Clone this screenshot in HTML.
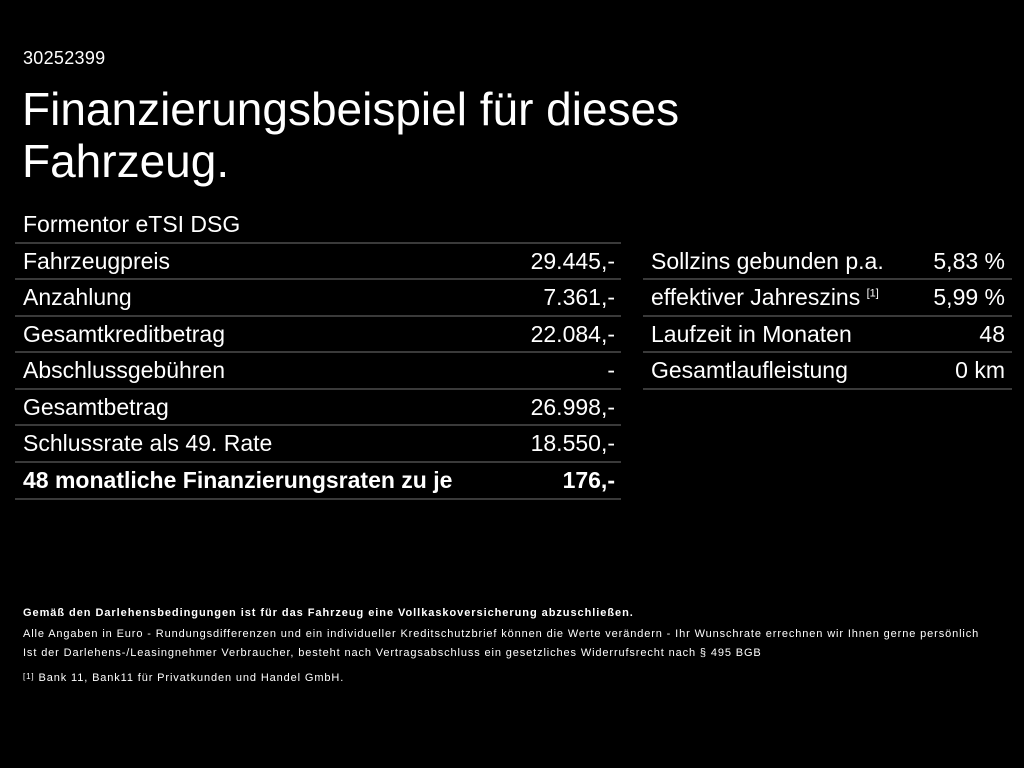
<!DOCTYPE html>
<html><head><meta charset="utf-8"><style>
body{margin:0;width:1024px;height:768px;background:#000;color:#fff;font-family:"Liberation Sans",sans-serif;position:relative;overflow:hidden}
.a{position:absolute;white-space:nowrap}
.l{position:absolute;height:2px;background:#3a3a3a}
.r{font-size:23px}
.f{font-size:11px;letter-spacing:0.88px}
</style></head><body>
<div class="a" style="left:23px;top:48px;font-size:18px;letter-spacing:0.3px">30252399</div>
<div class="a" style="left:22px;top:83px;font-size:46px;line-height:52px">Finanzierungsbeispiel für dieses<br>Fahrzeug.</div>
<div class="a r" style="left:23px;top:211px">Formentor eTSI DSG</div>

<div class="l" style="left:15px;width:606px;top:242px"></div>
<div class="l" style="left:15px;width:606px;top:278px"></div>
<div class="l" style="left:15px;width:606px;top:315px"></div>
<div class="l" style="left:15px;width:606px;top:351px"></div>
<div class="l" style="left:15px;width:606px;top:388px"></div>
<div class="l" style="left:15px;width:606px;top:424px"></div>
<div class="l" style="left:15px;width:606px;top:461px"></div>
<div class="l" style="left:15px;width:606px;top:498px"></div>

<div class="a r" style="left:23px;top:248px">Fahrzeugpreis</div>
<div class="a r" style="right:409px;top:248px">29.445,-</div>
<div class="a r" style="left:23px;top:284px">Anzahlung</div>
<div class="a r" style="right:409px;top:284px">7.361,-</div>
<div class="a r" style="left:23px;top:321px">Gesamtkreditbetrag</div>
<div class="a r" style="right:409px;top:321px">22.084,-</div>
<div class="a r" style="left:23px;top:357px">Abschlussgebühren</div>
<div class="a r" style="right:409px;top:357px">-</div>
<div class="a r" style="left:23px;top:394px">Gesamtbetrag</div>
<div class="a r" style="right:409px;top:394px">26.998,-</div>
<div class="a r" style="left:23px;top:430px">Schlussrate als 49. Rate</div>
<div class="a r" style="right:409px;top:430px">18.550,-</div>
<div class="a r" style="left:23px;top:467px;font-weight:bold">48 monatliche Finanzierungsraten zu je</div>
<div class="a r" style="right:409px;top:467px;font-weight:bold">176,-</div>

<div class="l" style="left:643px;width:369px;top:278px"></div>
<div class="l" style="left:643px;width:369px;top:315px"></div>
<div class="l" style="left:643px;width:369px;top:351px"></div>
<div class="l" style="left:643px;width:369px;top:388px"></div>
<div class="a r" style="left:651px;top:248px">Sollzins gebunden p.a.</div>
<div class="a r" style="right:19px;top:248px">5,83 %</div>
<div class="a r" style="left:651px;top:284px">effektiver Jahreszins <sup style="font-size:11px">[1]</sup></div>
<div class="a r" style="right:19px;top:284px">5,99 %</div>
<div class="a r" style="left:651px;top:321px">Laufzeit in Monaten</div>
<div class="a r" style="right:19px;top:321px">48</div>
<div class="a r" style="left:651px;top:357px">Gesamtlaufleistung</div>
<div class="a r" style="right:19px;top:357px">0 km</div>

<div class="a f" style="left:23px;top:607px;font-weight:bold;letter-spacing:0.95px">Gemäß den Darlehensbedingungen ist für das Fahrzeug eine Vollkaskoversicherung abzuschließen.</div>
<div class="a f" style="left:23px;top:628px">Alle Angaben in Euro - Rundungsdifferenzen und ein individueller Kreditschutzbrief können die Werte verändern - Ihr Wunschrate errechnen wir Ihnen gerne persönlich</div>
<div class="a f" style="left:23px;top:647px">Ist der Darlehens-/Leasingnehmer Verbraucher, besteht nach Vertragsabschluss ein gesetzliches Widerrufsrecht nach § 495 BGB</div>
<div class="a f" style="left:23px;top:672px"><span style="font-size:8px;vertical-align:top">[1]</span> Bank 11, Bank11 für Privatkunden und Handel GmbH.</div>
</body></html>
